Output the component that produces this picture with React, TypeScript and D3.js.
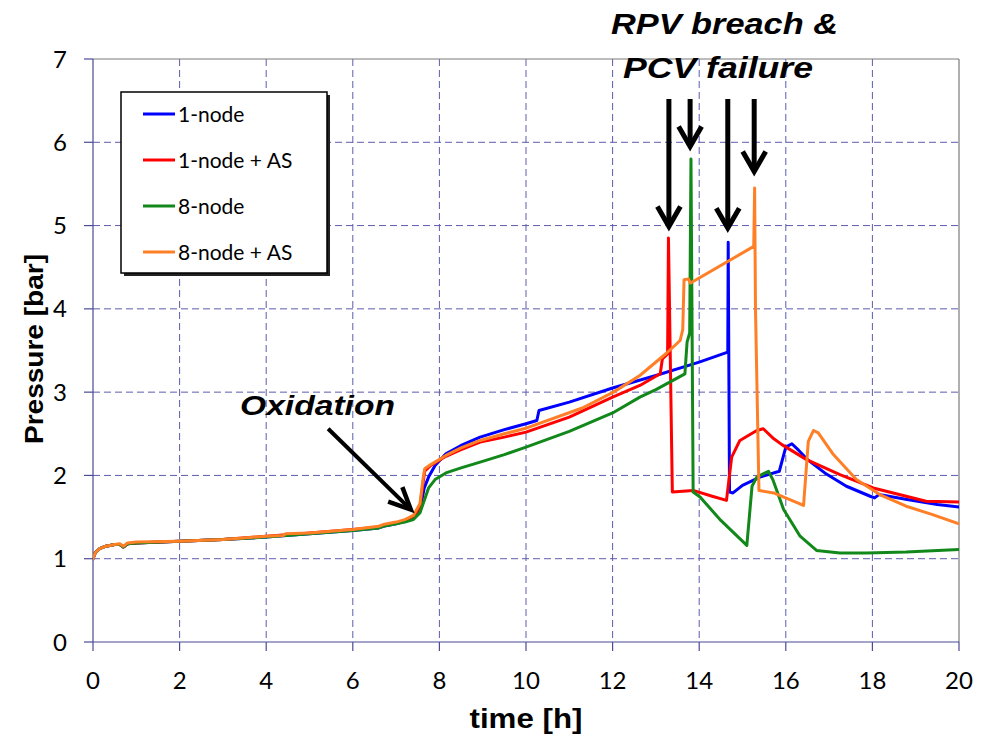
import React from 'react';
import * as d3 from 'd3';

const W = 988;
const H = 747;
const PLOT = { left: 93, right: 959, top: 59, bottom: 642 };

const xTicks = [0, 2, 4, 6, 8, 10, 12, 14, 16, 18, 20];
const yTicks = [0, 1, 2, 3, 4, 5, 6, 7];
const xLabel = 'time [h]';
const yLabel = 'Pressure [bar]';
const seriesNames = ['1-node', '1-node + AS', '8-node', '8-node + AS'];
const seriesColors = ['#0000ff', '#ff0000', '#12881a', '#ff7f27'];

type Pt = [number, number];

const oneNode: Pt[] = [
  [0, 1.0], [0.05, 1.07], [0.15, 1.12], [0.3, 1.15], [0.5, 1.17], [0.62, 1.17], [0.7, 1.14], [0.8, 1.18],
  [1.0, 1.19], [2.0, 1.21], [3.0, 1.23], [4.0, 1.26], [5.0, 1.3], [6.0, 1.34], [6.6, 1.37], [6.7, 1.39],
  [7.0, 1.42], [7.2, 1.45], [7.4, 1.48], [7.55, 1.58], [7.65, 1.85], [7.75, 1.98], [7.9, 2.12], [8.15, 2.26],
  [8.5, 2.36], [8.94, 2.46], [9.5, 2.55], [10.0, 2.62], [10.25, 2.66], [10.3, 2.78], [11.0, 2.88], [12.0, 3.05],
  [13.0, 3.2], [14.0, 3.36], [14.66, 3.48], [14.67, 4.8], [14.7, 1.8], [14.78, 1.79], [15.0, 1.88], [15.4, 1.98],
  [15.85, 2.05], [16.0, 2.34], [16.14, 2.38], [16.3, 2.3], [16.5, 2.19], [16.9, 2.03], [17.4, 1.87], [17.95, 1.75],
  [18.05, 1.73], [18.15, 1.77], [18.8, 1.71], [19.5, 1.65], [20, 1.62],
];

const oneNodeAS: Pt[] = [
  [0, 1.0], [0.05, 1.07], [0.15, 1.12], [0.3, 1.15], [0.5, 1.17], [0.62, 1.17], [0.7, 1.14], [0.8, 1.18],
  [1.0, 1.19], [2.0, 1.21], [3.0, 1.23], [4.0, 1.27], [5.0, 1.31], [6.0, 1.35], [6.6, 1.38], [6.7, 1.4],
  [7.0, 1.43], [7.2, 1.46], [7.4, 1.5], [7.55, 1.62], [7.62, 1.9], [7.66, 2.05], [7.8, 2.12], [8.15, 2.23],
  [8.5, 2.31], [8.94, 2.4], [9.5, 2.46], [10.0, 2.52], [11.0, 2.7], [12.0, 2.94], [12.63, 3.08], [13.1, 3.22],
  [13.15, 3.4], [13.27, 3.46], [13.29, 4.85], [13.38, 1.8], [13.86, 1.82], [14.3, 1.75], [14.63, 1.7],
  [14.75, 2.22], [14.94, 2.42], [15.33, 2.54], [15.48, 2.56], [15.7, 2.45], [15.91, 2.37], [16.48, 2.19],
  [17.25, 2.01], [18.02, 1.85], [18.78, 1.75], [19.24, 1.69], [20, 1.68],
];

const eightNode: Pt[] = [
  [0, 1.0], [0.05, 1.07], [0.15, 1.12], [0.3, 1.15], [0.5, 1.17], [0.62, 1.17], [0.7, 1.14], [0.8, 1.18],
  [1.0, 1.19], [2.0, 1.21], [3.0, 1.23], [4.0, 1.26], [5.0, 1.3], [6.0, 1.34], [6.6, 1.37], [6.7, 1.39],
  [7.0, 1.42], [7.2, 1.44], [7.4, 1.47], [7.55, 1.55], [7.65, 1.7], [7.75, 1.85], [7.9, 1.95], [8.15, 2.03],
  [8.5, 2.09], [8.94, 2.16], [9.5, 2.25], [10.0, 2.34], [11.0, 2.53], [12.0, 2.75], [12.63, 2.94], [13.0, 3.03],
  [13.67, 3.22], [13.72, 3.6], [13.78, 3.71], [13.81, 5.8], [13.86, 1.8], [14.02, 1.74], [14.5, 1.46],
  [15.1, 1.16], [15.22, 1.87], [15.33, 1.98], [15.6, 2.05], [15.7, 1.95], [15.95, 1.59], [16.33, 1.27],
  [16.71, 1.1], [17.25, 1.07], [17.86, 1.07], [18.78, 1.08], [20, 1.11],
];

const eightNodeAS: Pt[] = [
  [0, 1.0], [0.05, 1.07], [0.15, 1.12], [0.3, 1.15], [0.5, 1.17], [0.62, 1.18], [0.7, 1.15], [0.8, 1.19],
  [1.0, 1.2], [2.0, 1.21], [3.0, 1.23], [4.0, 1.27], [4.4, 1.28], [4.45, 1.3], [5.0, 1.31], [6.0, 1.35],
  [6.6, 1.39], [6.7, 1.41], [7.0, 1.44], [7.2, 1.47], [7.4, 1.52], [7.55, 1.66], [7.62, 1.95], [7.66, 2.08],
  [7.8, 2.13], [8.15, 2.24], [8.5, 2.33], [8.94, 2.42], [9.5, 2.5], [10.02, 2.57], [11.3, 2.81], [12.02, 3.0],
  [12.63, 3.2], [13.25, 3.47], [13.56, 3.62], [13.62, 3.75], [13.65, 4.35], [13.75, 4.36], [13.8, 4.31],
  [15.26, 4.75], [15.28, 5.45], [15.3, 4.0], [15.38, 1.82], [15.72, 1.79], [16.41, 1.64], [16.52, 2.41],
  [16.64, 2.54], [16.75, 2.51], [17.1, 2.25], [17.63, 1.95], [18.17, 1.77], [18.78, 1.63], [19.39, 1.53],
  [20, 1.42],
];

const allSeries = [oneNode, oneNodeAS, eightNode, eightNodeAS];

// annotation arrows in data units: [tailT, tailP, tipT, tipP]
const breachArrows: [number, number, number, number][] = [
  [13.3, 6.52, 13.3, 4.99],
  [13.79, 6.52, 13.79, 5.95],
  [14.66, 6.52, 14.66, 4.97],
  [15.27, 6.52, 15.27, 5.65],
];
const oxidationArrow: [number, number, number, number] = [5.43, 2.56, 7.34, 1.59];

function arrowHead(x1: number, y1: number, x2: number, y2: number, len: number, ang: number) {
  const th = Math.atan2(y2 - y1, x2 - x1);
  const a1 = th + Math.PI - ang;
  const a2 = th + Math.PI + ang;
  return `M${x2 + len * Math.cos(a1)},${y2 + len * Math.sin(a1)}L${x2},${y2}L${x2 + len * Math.cos(a2)},${y2 + len * Math.sin(a2)}`;
}

export default function App() {
  const x = d3.scaleLinear().domain([0, 20]).range([PLOT.left, PLOT.right]);
  const y = d3.scaleLinear().domain([0, 7]).range([PLOT.bottom, PLOT.top]);
  const line = d3.line<Pt>().x((d) => x(d[0])).y((d) => y(d[1]));
  const gridColor = '#5c5cae';
  const axisColor = '#4a4a96';
  const tickFont = 'Lato, "Open Sans", sans-serif';
  const boldFont = '"Liberation Sans", Arial, sans-serif';

  return (
    <svg width={W} height={H} style={{ position: 'absolute', left: 0, top: 0, background: '#fff' }}>
      <rect x={0} y={0} width={W} height={H} fill="#fff" />
      {/* grid */}
      {xTicks.filter((t) => t > 0 && t < 20).map((t) => (
        <line key={'gx' + t} x1={x(t)} x2={x(t)} y1={y(7)} y2={y(0)} stroke={gridColor} strokeWidth={1} strokeDasharray="7 4" />
      ))}
      {yTicks.filter((t) => t > 0 && t < 7).map((t) => (
        <line key={'gy' + t} x1={x(0)} x2={x(20)} y1={y(t)} y2={y(t)} stroke={gridColor} strokeWidth={1} strokeDasharray="7 4" />
      ))}
      {/* plot border top/right */}
      <line x1={x(0)} x2={x(20)} y1={y(7)} y2={y(7)} stroke="#7a7a7a" strokeWidth={1.2} />
      <line x1={x(20)} x2={x(20)} y1={y(7)} y2={y(0)} stroke="#7a7a7a" strokeWidth={1.2} />
      {/* axes */}
      <line x1={x(0)} x2={x(20)} y1={y(0)} y2={y(0)} stroke={axisColor} strokeWidth={1.2} />
      <line x1={x(0)} x2={x(0)} y1={y(0)} y2={y(7)} stroke={axisColor} strokeWidth={1.2} />
      {xTicks.map((t) => (
        <g key={'xt' + t}>
          <line x1={x(t)} x2={x(t)} y1={y(0)} y2={y(0) + 9} stroke={axisColor} strokeWidth={1.2} />
          <text x={x(t)} y={689} textAnchor="middle" fontFamily={tickFont} fontSize={24} fill="#000">{t}</text>
        </g>
      ))}
      {yTicks.map((t) => (
        <g key={'yt' + t}>
          <line x1={x(0) - 9} x2={x(0)} y1={y(t)} y2={y(t)} stroke={axisColor} strokeWidth={1.2} />
          <text x={67} y={y(t)} dy="0.36em" textAnchor="end" fontFamily={tickFont} fontSize={24} fill="#000">{t}</text>
        </g>
      ))}
      {/* axis titles */}
      <text x={526} y={728} textAnchor="middle" fontFamily={boldFont} fontWeight="bold" fontSize={28} textLength={113} lengthAdjust="spacingAndGlyphs">{xLabel}</text>
      <text transform="translate(43,349) rotate(-90)" textAnchor="middle" fontFamily={boldFont} fontWeight="bold" fontSize={25} textLength={190} lengthAdjust="spacingAndGlyphs">{yLabel}</text>
      {/* series */}
      <g clipPath="url(#clip)">
        {allSeries.map((s, i) => (
          <path key={'s' + i} d={line(s) || ''} fill="none" stroke={seriesColors[i]} strokeWidth={3} strokeLinejoin="round" strokeLinecap="round" />
        ))}
      </g>
      <defs>
        <clipPath id="clip">
          <rect x={PLOT.left} y={PLOT.top - 2} width={PLOT.right - PLOT.left} height={PLOT.bottom - PLOT.top + 4} />
        </clipPath>
      </defs>
      {/* legend */}
      <rect x={124} y={95} width={206} height={181} fill="#222" />
      <rect x={121} y={92} width={206} height={181} fill="#fff" stroke="#000" strokeWidth={1.5} />
      {seriesNames.map((n, i) => (
        <g key={'lg' + i}>
          <line x1={143} x2={175} y1={114 + i * 46} y2={114 + i * 46} stroke={seriesColors[i]} strokeWidth={3} />
          <text x={178} y={114 + i * 46} dy="0.36em" fontFamily={tickFont} fontSize={21} fill="#000">{n}</text>
        </g>
      ))}
      {/* annotations */}
      <text x={611} y={34} fontFamily={boldFont} fontWeight="bold" fontStyle="italic" fontSize={29} textLength={227} lengthAdjust="spacingAndGlyphs">RPV breach &amp;</text>
      <text x={623} y={78} fontFamily={boldFont} fontWeight="bold" fontStyle="italic" fontSize={29} textLength={190} lengthAdjust="spacingAndGlyphs">PCV failure</text>
      <text x={240} y={415} fontFamily={boldFont} fontWeight="bold" fontStyle="italic" fontSize={28} textLength={155} lengthAdjust="spacingAndGlyphs">Oxidation</text>
      {breachArrows.map((a, i) => {
        const x1 = x(a[0]), y1 = y(a[1]), x2 = x(a[2]), y2 = y(a[3]);
        return (
          <g key={'ba' + i}>
            <line x1={x1} x2={x2} y1={y1} y2={y2 - 2} stroke="#000" strokeWidth={5} />
            <path d={arrowHead(x1, y1, x2, y2, 23, (30 * Math.PI) / 180)} fill="none" stroke="#000" strokeWidth={5} strokeLinejoin="miter" />
          </g>
        );
      })}
      {(() => {
        const a = oxidationArrow;
        const x1 = x(a[0]), y1 = y(a[1]), x2 = x(a[2]), y2 = y(a[3]);
        return (
          <g>
            <line x1={x1} x2={x2 - 1} y1={y1} y2={y2 - 1} stroke="#000" strokeWidth={4} />
            <path d={arrowHead(x1, y1, x2, y2, 24, (25 * Math.PI) / 180)} fill="none" stroke="#000" strokeWidth={4.5} />
          </g>
        );
      })()}
    </svg>
  );
}
